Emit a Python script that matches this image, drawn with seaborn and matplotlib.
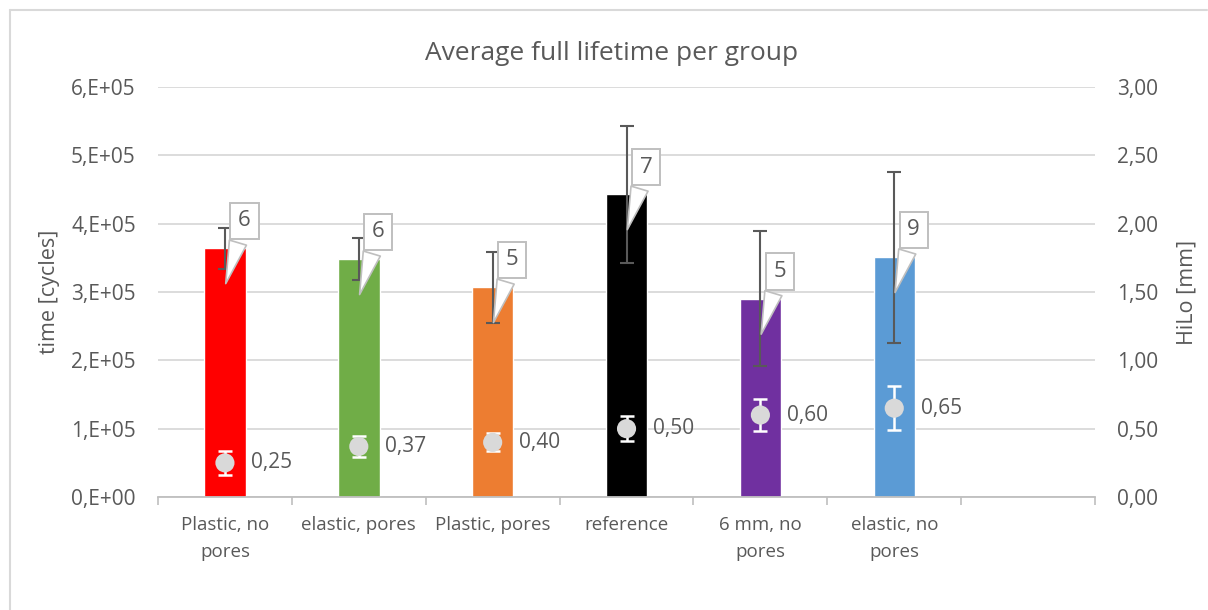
import matplotlib
matplotlib.use("Agg")
import matplotlib.pyplot as plt
from matplotlib.ticker import FixedLocator, FuncFormatter
from matplotlib.transforms import offset_copy
import seaborn as sns
import pandas as pd

# Groups and measurements
groups = ["Plastic, no\npores", "elastic, pores", "Plastic, pores", "reference",
          "6 mm, no\npores", "elastic, no\npores"]
lifetime = [364000, 348000, 307000, 443000, 290000, 351000]
lifetime_err = [30000, 30500, 52000, 100000, 99000, 125000]
counts = [6, 6, 5, 7, 5, 9]
hilo = [0.25, 0.37, 0.40, 0.50, 0.60, 0.65]
hilo_err = [0.088, 0.075, 0.065, 0.09, 0.12, 0.16]
bar_colors = ["#FF0000", "#70AD47", "#ED7D31", "#000000", "#7030A0", "#5B9BD5"]

TEXT = "#595959"
GRID = "#D9D9D9"

sns.set_theme(style="white")
plt.rcParams["font.family"] = ["Open Sans", "DejaVu Sans"]

fig = plt.figure(figsize=(12.08, 6.10), dpi=100)
ax = fig.add_axes([0.1308, 0.1852, 0.9065 - 0.1308, 0.8574 - 0.1852])

df = pd.DataFrame({"group": groups, "lifetime": lifetime})
sns.barplot(data=df, x="group", y="lifetime", hue="group", palette=bar_colors,
            width=0.31, legend=False, saturation=1, ax=ax, zorder=2)
xpos = list(range(len(groups)))
ax.errorbar(xpos, lifetime, yerr=lifetime_err, fmt="none", ecolor=TEXT,
            elinewidth=1.5, capsize=5, capthick=1.5, zorder=3)

ax.set_xlim(-0.5, 6.5)
ax.set_ylim(0, 600000)
ax.yaxis.set_major_locator(FixedLocator([i * 100000 for i in range(7)]))
ax.yaxis.set_major_formatter(FuncFormatter(
    lambda v, p: "0,E+00" if v == 0 else f"{v / 1e5:.0f},E+05"))
ax.grid(axis="y", color=GRID, lw=1.3, zorder=0)
ax.set_axisbelow(True)

ax.set_xticks(range(7))
ax.set_xticklabels(groups + [""], color=TEXT, fontsize=13.5, linespacing=1.62,
                   va="top")
ax.set_xticks([i - 0.5 for i in range(8)], minor=True)
ax.tick_params(axis="x", which="major", length=0, pad=14)
ax.tick_params(axis="x", which="minor", length=6, width=1.2, color="#BFBFBF",
               direction="out", bottom=True)
ax.tick_params(axis="y", length=0, pad=16, labelsize=15, labelcolor=TEXT)
ax.set_xlabel("")
ax.set_ylabel("time [cycles]", fontsize=15.5, color=TEXT)
ax.yaxis.set_label_coords(-0.105, 0.5)

for side in ["top", "right", "left"]:
    ax.spines[side].set_visible(False)
ax.spines["bottom"].set_color("#BFBFBF")
ax.spines["bottom"].set_linewidth(1.3)

# Sample-count callouts above each bar
tip_tr = offset_copy(ax.transData, fig=fig, x=0, y=-38, units="dots")
for i, (v, n) in enumerate(zip(lifetime, counts)):
    ax.annotate(str(n), xy=(i, v), xycoords=tip_tr,
                xytext=(14, 47), textcoords="offset points",
                ha="center", va="center", fontsize=16, color=TEXT, zorder=5,
                bbox=dict(boxstyle="square,pad=0.35", fc="white", ec="#BFBFBF", lw=1.4),
                arrowprops=dict(arrowstyle="wedge,tail_width=0.8,shrink_factor=0.5",
                                fc="white", ec="#BFBFBF", lw=1.2))

# Secondary axis: HiLo
ax2 = ax.twinx()
ax2.errorbar(xpos, hilo, yerr=hilo_err, fmt="none", ecolor="white",
             elinewidth=1.8, capsize=5, capthick=1.8, zorder=3)
sns.scatterplot(x=xpos, y=hilo, color="#D9D9D9", s=190, edgecolor="none",
                ax=ax2, zorder=4)
for i, h in enumerate(hilo):
    ax2.annotate(f"{h:.2f}".replace(".", ","), xy=(i, h), xytext=(19, 0),
                 textcoords="offset points", ha="left", va="center",
                 fontsize=15, color=TEXT)
ax2.set_ylim(0, 3)
ax2.set_xlim(-0.5, 6.5)
ax2.yaxis.set_major_locator(FixedLocator([i * 0.5 for i in range(7)]))
ax2.yaxis.set_major_formatter(FuncFormatter(lambda v, p: f"{v:.2f}".replace(".", ",")))
ax2.yaxis.set_ticks_position("right")
ax2.tick_params(axis="y", which="both", right=True, length=0, pad=16,
                labelsize=15, labelcolor=TEXT)
ax2.set_ylabel("HiLo [mm]", fontsize=15.5, color=TEXT)
ax2.yaxis.set_label_coords(1.0865, 0.5)
for side in ax2.spines:
    ax2.spines[side].set_visible(False)
ax2.grid(False)

fig.suptitle("Average full lifetime per group", fontsize=19, color=TEXT,
             x=0.506, y=1 - 54 / 610, va="center")

# Chart-area frame
fig.add_artist(plt.Line2D([10 / 1208, 10 / 1208], [0, 1 - 10 / 610],
                          transform=fig.transFigure, color=GRID, lw=1.5))
fig.add_artist(plt.Line2D([10 / 1208, 1207 / 1208], [1 - 10 / 610, 1 - 10 / 610],
                          transform=fig.transFigure, color=GRID, lw=1.5))

fig.savefig("out.png", dpi=100)
